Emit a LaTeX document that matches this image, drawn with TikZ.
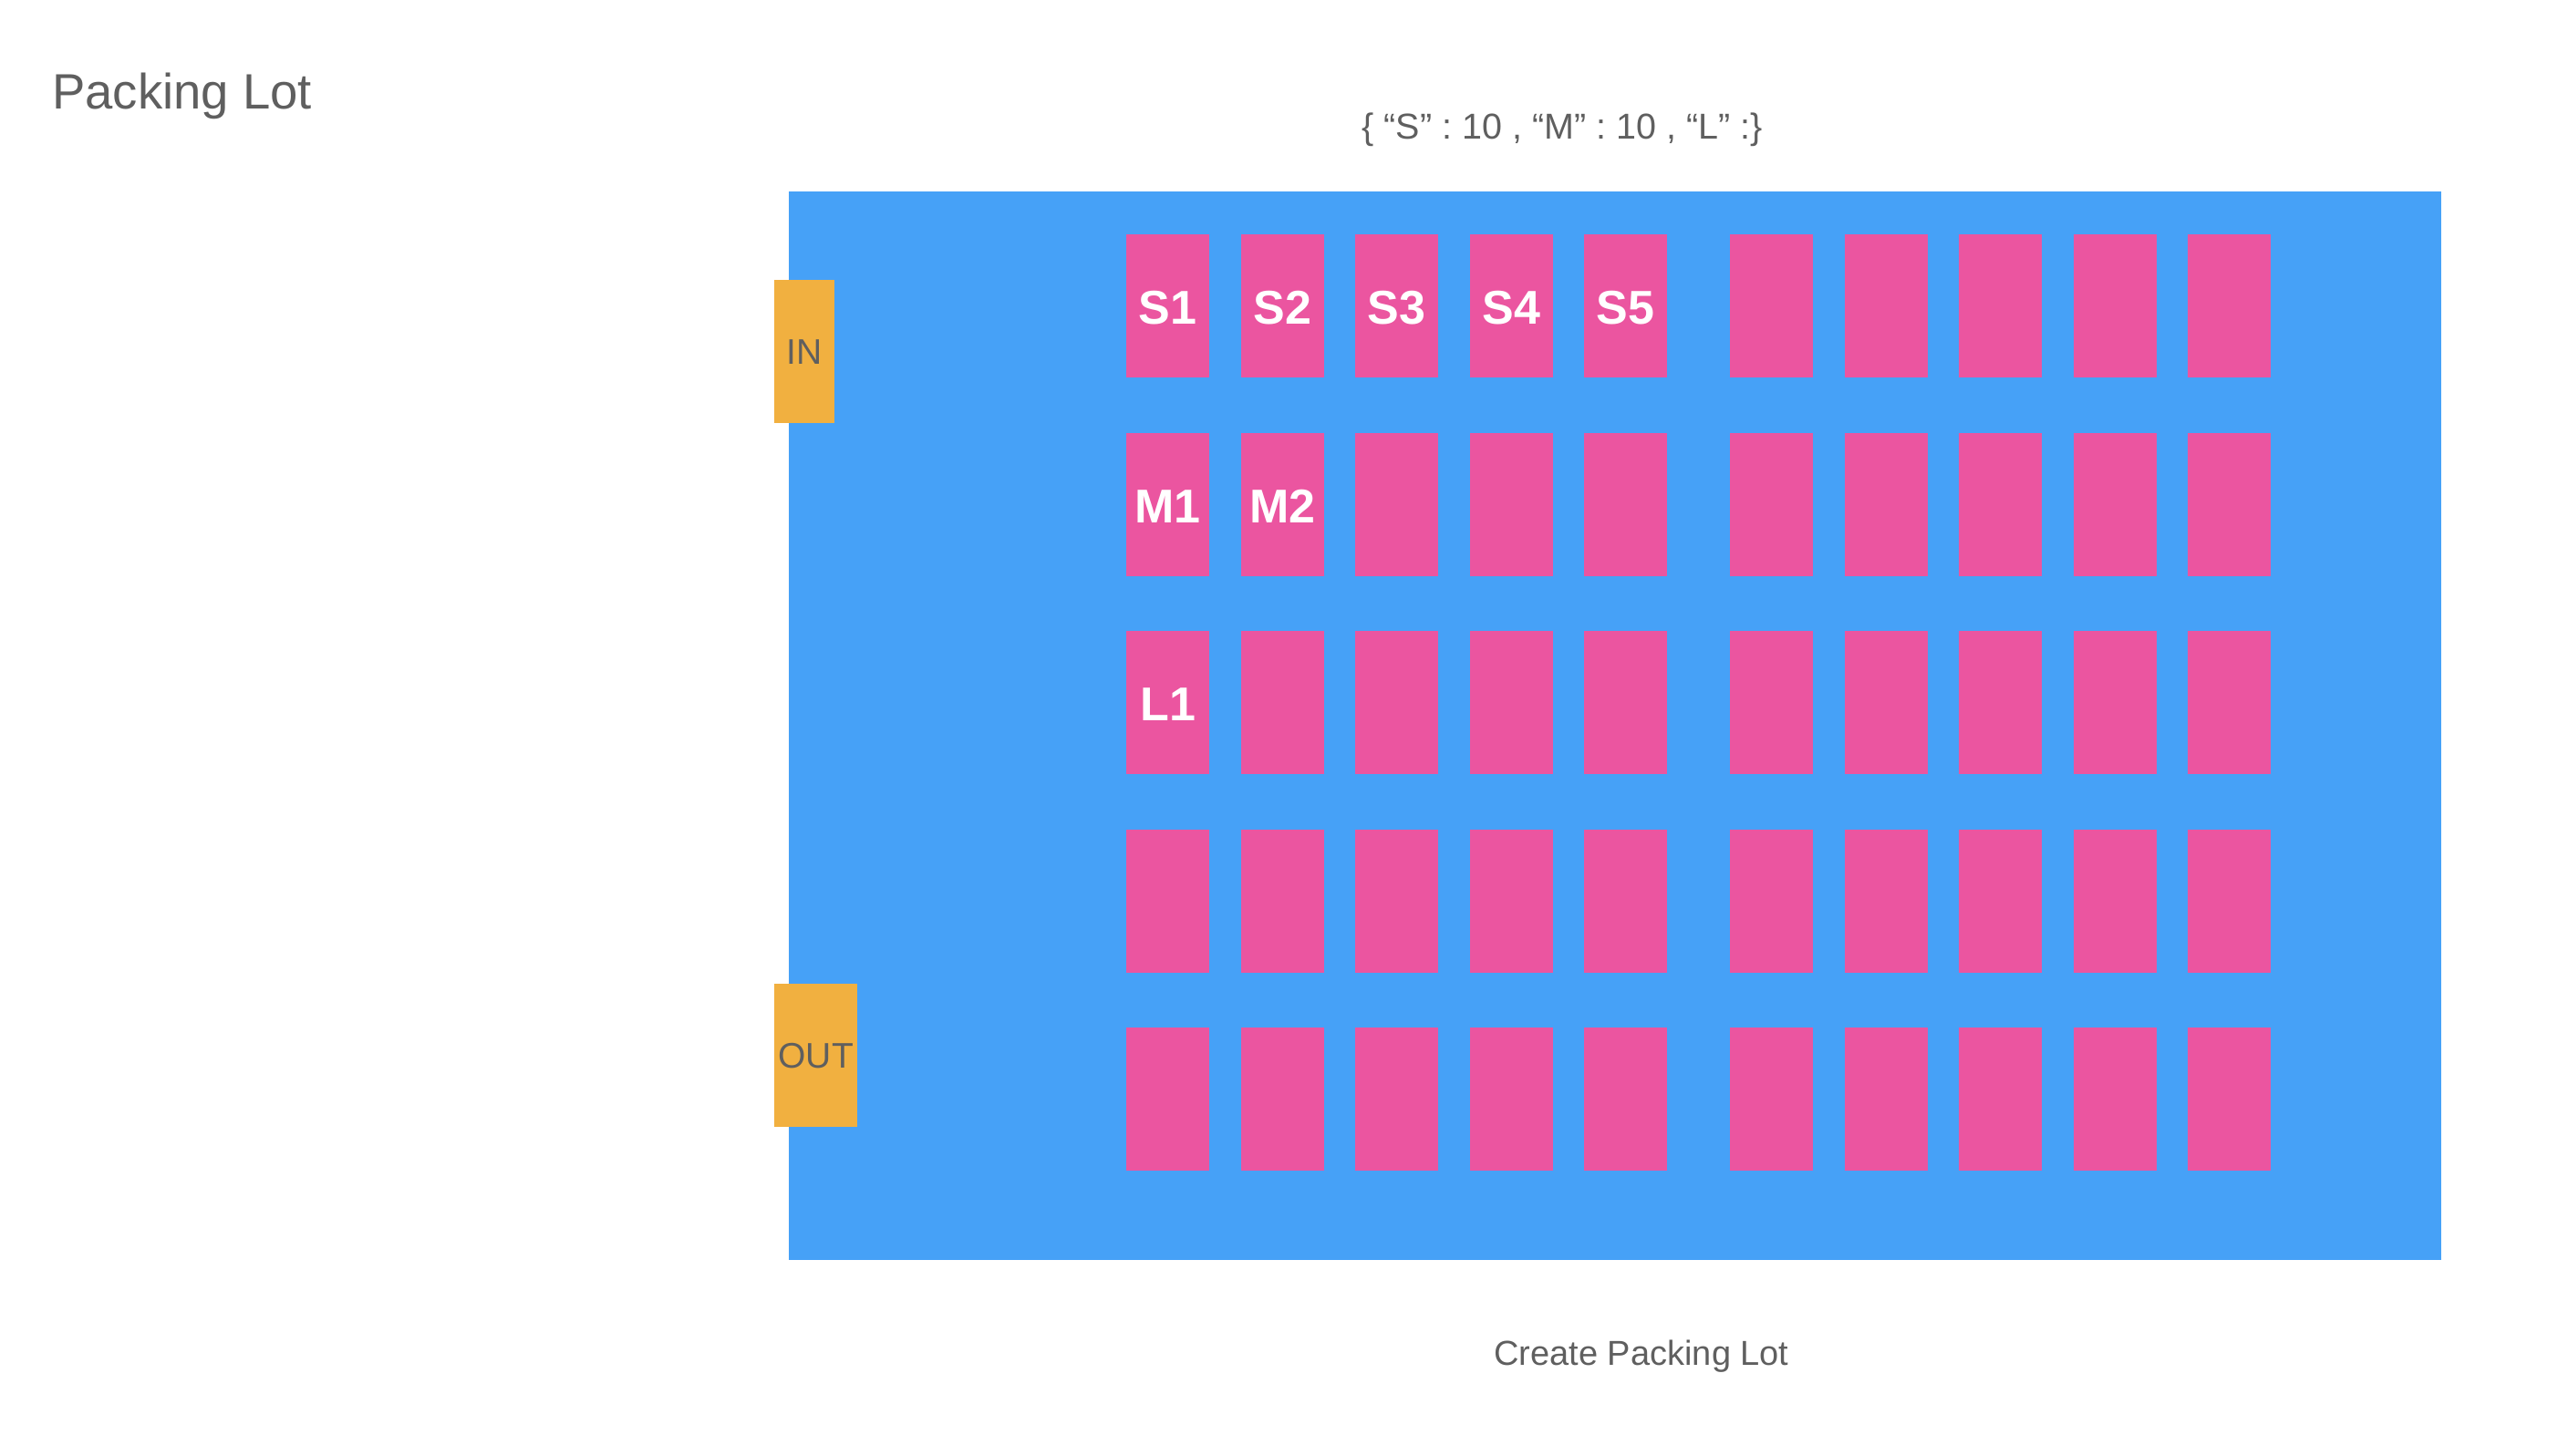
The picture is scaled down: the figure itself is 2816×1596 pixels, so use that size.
\documentclass[tikz,border=0pt]{standalone}
\usepackage{fontspec}
\setmainfont{Liberation Sans}
\definecolor{lotblue}{HTML}{46A1F7}
\definecolor{slotpink}{HTML}{EB55A0}
\definecolor{gateorange}{HTML}{F1B040}
\definecolor{txtgray}{HTML}{5F5F5F}
\begin{document}
\begin{tikzpicture}[x=1pt,y=-1pt,
  slotbox/.style={fill=slotpink, minimum width=91pt, minimum height=157pt, inner sep=0pt, anchor=north west},
  slottext/.style={text=white, inner sep=0pt, yshift=-2pt, font=\fontsize{52}{52}\selectfont\bfseries},
  gatebox/.style={fill=gateorange, inner sep=0pt, anchor=north west, text=txtgray, font=\fontsize{39}{39}\selectfont},
  lbl/.style={text=txtgray, inner sep=0pt}]
\useasboundingbox (0,0) rectangle (2816,1596);
% lot
\node[fill=lotblue, minimum width=1812pt, minimum height=1172pt, inner sep=0pt, anchor=north west] (lot) at (865,210) {};
% gates
\node[gatebox, minimum width=66pt, minimum height=157pt] (in) at (849,307) {IN};
\node[gatebox, minimum width=91pt, minimum height=157pt] (out) at (849,1079) {OUT};
% slots
\foreach \r in {1,...,5}{
  \foreach \c in {1,...,10}{
    \pgfmathsetmacro{\xx}{1235+125.5*(\c-1)+(\c>5 ? 34.5 : 0)}
    \pgfmathsetmacro{\yy}{257+217.5*(\r-1)}
    \node[slotbox] (s-\r-\c) at (\xx,\yy) {};
  }
}
% slot labels
\node[slottext] (t-s1) at (s-1-1.center) {S1};
\node[slottext] (t-s2) at (s-1-2.center) {S2};
\node[slottext] (t-s3) at (s-1-3.center) {S3};
\node[slottext] (t-s4) at (s-1-4.center) {S4};
\node[slottext] (t-s5) at (s-1-5.center) {S5};
\node[slottext] (t-m1) at (s-2-1.center) {M1};
\node[slottext] (t-m2) at (s-2-2.center) {M2};
\node[slottext] (t-l1) at (s-3-1.center) {L1};
% texts
\node[lbl, anchor=base west, font=\fontsize{54.5}{54.5}\selectfont] (title) at (57,119) {Packing Lot};
\node[lbl, anchor=base, font=\fontsize{39.5}{39.5}\selectfont] (dict) at (1713,152) {\{ “S” : 10 , “M” : 10 , “L” :\}};
\node[lbl, anchor=base, font=\fontsize{38}{38}\selectfont] (caption) at (1800,1497) {Create Packing Lot};
\end{tikzpicture}
\end{document}
